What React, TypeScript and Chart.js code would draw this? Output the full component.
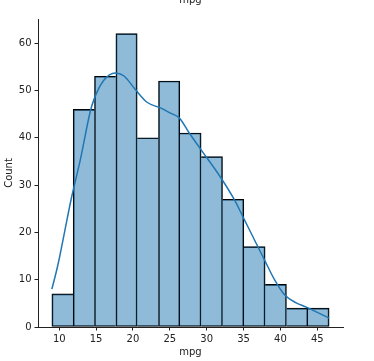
import React, { useEffect, useRef } from "react";
import { Chart, registerables } from "chart.js";

Chart.register(...registerables);

// Histogram bins of mpg (13 bins from 9.0 to 46.6)
const binStarts = [9.0, 11.89, 14.78, 17.68, 20.57, 23.46, 26.35, 29.25, 32.14, 35.03, 37.92, 40.82, 43.71];
const binWidth = 2.892;
const counts = [7, 46, 53, 62, 40, 52, 41, 36, 27, 17, 9, 4, 4];

// KDE curve (scaled to counts)
const kdeX = [9.0, 9.8, 10.7, 11.6, 12.84, 14.2, 14.66, 16.02, 17.6, 18.74, 20.32, 21.91, 23.72, 25.08, 26.27, 27.63, 29.22, 31.94, 33.75, 34.88, 36.7, 37.83, 39.19, 40.55, 42.14, 43.5, 46.6];
const kdeY = [8.0, 13.0, 19.9, 26.9, 35.2, 45.5, 47.9, 52.1, 53.7, 53.1, 50.2, 47.5, 46.3, 45.2, 44.2, 41.0, 37.5, 31.5, 26.9, 23.4, 17.7, 14.2, 10.0, 6.8, 5.1, 4.2, 1.9];

const xTicks = [10, 15, 20, 25, 30, 35, 40, 45];
const yTicks = [0, 10, 20, 30, 40, 50, 60];
const xRange = [7.12, 48.48];
const yRange = [0, 65.1];

const FONT = "'DejaVu Sans', sans-serif";

export default function App() {
  const ref = useRef<HTMLCanvasElement>(null);

  useEffect(() => {
    const canvas = ref.current;
    if (!canvas) return;

    const textPlugin = {
      id: "texts",
      afterDraw(chart: any) {
        const { ctx, chartArea } = chart;
        const cx = (chartArea.left + chartArea.right) / 2;
        const cy = (chartArea.top + chartArea.bottom) / 2;
        ctx.save();
        ctx.fillStyle = "#222";
        ctx.font = `10px ${FONT}`;
        ctx.textAlign = "center";
        ctx.textBaseline = "alphabetic";
        ctx.fillText("mpg", cx, 3.3);
        ctx.fillText("mpg", cx, 355);
        ctx.translate(12.2, cy);
        ctx.rotate(-Math.PI / 2);
        ctx.fillText("Count", 0, 0);
        ctx.restore();
      },
    };

    const n = counts.length;
    const chart = new Chart(canvas, {
      type: "bar",
      data: {
        datasets: [
          {
            type: "line",
            data: kdeX.map((x, i) => ({ x, y: kdeY[i] })),
            borderColor: "#1f77b4",
            borderWidth: 1.5,
            pointRadius: 0,
            cubicInterpolationMode: "monotone",
            fill: false,
            order: 0,
          } as any,
          {
            type: "bar",
            data: binStarts.map((s, i) => ({ x: s + binWidth / 2, y: counts[i] })),
            backgroundColor: "rgba(31,119,180,0.5)",
            borderColor: "#000",
            borderWidth: (c: any) => {
              const i = c.dataIndex;
              return {
                top: 1,
                bottom: 1,
                left: i === 0 || counts[i - 1] < counts[i] ? 1 : 0,
                right: i === n - 1 || counts[i + 1] <= counts[i] ? 1 : 0,
              };
            },
            borderSkipped: false,
            barPercentage: 1,
            categoryPercentage: 1,
            order: 1,
          } as any,
        ],
      },
      options: {
        animation: false,
        responsive: false,
        maintainAspectRatio: false,
        layout: { padding: { top: 19, right: 31, left: 0, bottom: 0 } },
        plugins: { legend: { display: false }, tooltip: { enabled: false }, title: { display: false } },
        scales: {
          x: {
            type: "linear",
            min: xRange[0],
            max: xRange[1],
            offset: false,
            grid: { display: true, drawOnChartArea: false, drawTicks: true, tickLength: 3.5, tickColor: "#222", offset: false },
            border: { display: true, color: "#222", width: 1 },
            ticks: { font: { family: FONT, size: 10 }, color: "#222", padding: 3, maxRotation: 0, autoSkip: false },
            afterBuildTicks: (scale: any) => {
              scale.ticks = xTicks.map((v) => ({ value: v }));
            },
            afterFit: (scale: any) => {
              scale.height = 34;
            },
          },
          y: {
            type: "linear",
            min: yRange[0],
            max: yRange[1],
            grid: { display: true, drawOnChartArea: false, drawTicks: true, tickLength: 3.5, tickColor: "#222" },
            border: { display: true, color: "#222", width: 1 },
            ticks: { font: { family: FONT, size: 10 }, color: "#222", padding: 3, autoSkip: false },
            afterBuildTicks: (scale: any) => {
              scale.ticks = yTicks.map((v) => ({ value: v }));
            },
            afterFit: (scale: any) => {
              scale.width = 38;
            },
          },
        },
      },
      plugins: [textPlugin],
    });

    return () => chart.destroy();
  }, []);

  return (
    <div style={{ position: "absolute", left: 0, top: 0, width: 374, height: 361, background: "#fff" }}>
      <canvas ref={ref} width={374} height={361} style={{ display: "block", width: 374, height: 361 }} />
    </div>
  );
}
